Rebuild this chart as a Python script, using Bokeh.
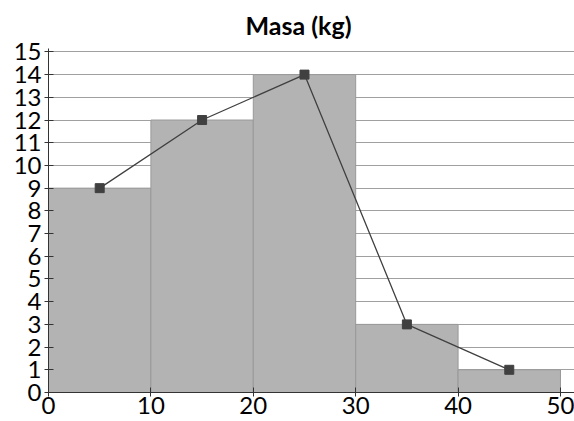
from bokeh.plotting import figure
from bokeh.models import Range1d, FixedTicker
from bokeh.embed import file_html
from bokeh.resources import INLINE

bin_left = [0, 10, 20, 30, 40]
bin_right = [10, 20, 30, 40, 50]
freq = [9, 12, 14, 3, 1]
mid = [5, 15, 25, 35, 45]
y_ticks = list(range(0, 16))
x_ticks = [0, 10, 20, 30, 40, 50]

p = figure(width=574, height=421, output_backend="svg", toolbar_location=None,
           x_range=Range1d(0, 51.37), y_range=Range1d(0, 15.15),
           min_border_left=48, min_border_right=0, min_border_bottom=29, min_border_top=48)
p.title.text = "Masa (kg)"
p.title.align = "left"
p.title.text_font = "Lato"
p.title.text_font_size = "25px"
p.title.text_font_style = "bold"
p.title.text_color = "black"
p.title.standoff = 14
p.title.vertical_align = "top"
p.title.offset = 197
p.outline_line_color = None

p.quad(left=bin_left, right=bin_right, bottom=0, top=freq,
       fill_color="#b3b3b3", line_color="#999999", line_width=1)
p.line(mid, freq, line_color="#404040", line_width=1.3)
p.scatter(mid, freq, marker="square", size=9, fill_color="#404040", line_color="#404040")

p.xgrid.visible = False
p.ygrid.ticker = FixedTicker(ticks=y_ticks)
p.ygrid.grid_line_color = "#a0a0a0"
p.ygrid.grid_line_width = 1
p.ygrid.level = "underlay"

for ax, ticks in ((p.xaxis, x_ticks), (p.yaxis, y_ticks)):
    ax.ticker = FixedTicker(ticks=ticks)
    ax.axis_line_color = "#333333"
    ax.major_tick_line_color = "#333333"
    ax.major_tick_in = 5
    ax.major_tick_out = 4
    ax.minor_tick_line_color = None
    ax.major_label_text_font = "Lato"
    ax.major_label_text_font_size = "24px"
    ax.major_label_text_color = "black"
    ax.major_label_standoff = 0
p.yaxis.major_label_standoff = 3

open("out.html", "w").write(file_html(p, INLINE))
